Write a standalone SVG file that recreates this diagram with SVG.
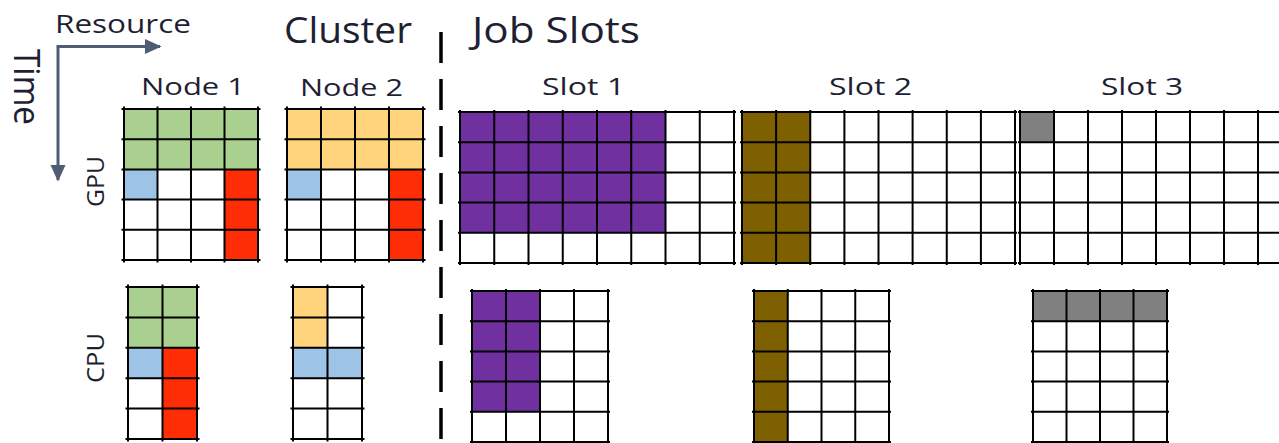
<svg xmlns="http://www.w3.org/2000/svg" width="1279" height="443" viewBox="0 0 1279 443">
<style>
text{font-family:"Open Sans","Liberation Sans",sans-serif;fill:#1f1f33}
.t1{font-size:25px}
.t2{font-size:36px}
.t3{font-size:24px}
.grid{fill:none;stroke:#000;stroke-width:2}
.bg{fill:#fff}
.g{fill:#a9d08e}.o{fill:#ffd47c}.b{fill:#9dc3e6}.r{fill:#ff2d05}.p{fill:#7030a0}.br{fill:#7f6000}.gr{fill:#808080}
</style>
<defs>
<marker id="ah" markerWidth="6" markerHeight="6" refX="5" refY="3" orient="auto" markerUnits="strokeWidth"><path d="M0,0.5 L5.5,3 L0,5.5 Z" fill="#4e5d73"/></marker>
</defs>
<rect width="1279" height="443" fill="#fff"/>
<g id="connectors">
<path d="M58 47.5 V180" stroke="#4e5d73" stroke-width="3" fill="none" marker-end="url(#ah)"/>
<path d="M56.5 46.5 H160" stroke="#4e5d73" stroke-width="3" fill="none" marker-end="url(#ah)"/>
<line x1="441" y1="32" x2="441" y2="443" stroke="#000" stroke-width="3.5" stroke-dasharray="31 16"/>
</g>
<g id="labels">
<text class="t1" x="55" y="33" textLength="136" lengthAdjust="spacingAndGlyphs">Resource</text>
<text class="t2" transform="translate(14,49) rotate(90)" style="font-size:36px" textLength="76" lengthAdjust="spacingAndGlyphs">Time</text>
<text class="t2" x="284" y="43" textLength="128" lengthAdjust="spacingAndGlyphs">Cluster</text>
<text class="t2" x="472" y="43" textLength="168" lengthAdjust="spacingAndGlyphs">Job Slots</text>
<text class="t3" transform="translate(104,207) rotate(-90)" style="font-size:24px" textLength="51" lengthAdjust="spacingAndGlyphs">GPU</text>
<text class="t3" transform="translate(104,383) rotate(-90)" style="font-size:24px" textLength="50" lengthAdjust="spacingAndGlyphs">CPU</text>
</g>
<g id="node1">
<text class="t3" x="141" y="95" textLength="104" lengthAdjust="spacingAndGlyphs">Node 1</text>
<g id="node1-gpu">
<rect class="bg" x="124" y="109" width="134" height="151"/>
<rect class="g" x="124" y="109" width="134" height="60.4"/>
<rect class="b" x="124" y="169.4" width="33.5" height="30.2"/>
<rect class="r" x="224.5" y="169.4" width="33.5" height="90.6"/>
<path class="grid" d="M121.5 109H260.5M121.5 139.2H260.5M121.5 169.4H260.5M121.5 199.6H260.5M121.5 229.8H260.5M121.5 260H260.5M124 106.5V262.5M157.5 106.5V262.5M191 106.5V262.5M224.5 106.5V262.5M258 106.5V262.5"/>
</g>
<g id="node1-cpu">
<rect class="bg" x="128" y="287" width="69" height="152"/>
<rect class="g" x="128" y="287" width="69" height="60.8"/>
<rect class="b" x="128" y="347.8" width="34.5" height="30.4"/>
<rect class="r" x="162.5" y="347.8" width="34.5" height="91.2"/>
<path class="grid" d="M125.5 287H199.5M125.5 317.4H199.5M125.5 347.8H199.5M125.5 378.2H199.5M125.5 408.6H199.5M125.5 439H199.5M128 284.5V441.5M162.5 284.5V441.5M197 284.5V441.5"/>
</g>
</g>
<g id="node2">
<text class="t3" x="300" y="96" textLength="103" lengthAdjust="spacingAndGlyphs">Node 2</text>
<g id="node2-gpu">
<rect class="bg" x="287" y="109" width="136" height="151"/>
<rect class="o" x="287" y="109" width="136" height="60.4"/>
<rect class="b" x="287" y="169.4" width="34" height="30.2"/>
<rect class="r" x="389" y="169.4" width="34" height="90.6"/>
<path class="grid" d="M284.5 109H425.5M284.5 139.2H425.5M284.5 169.4H425.5M284.5 199.6H425.5M284.5 229.8H425.5M284.5 260H425.5M287 106.5V262.5M321 106.5V262.5M355 106.5V262.5M389 106.5V262.5M423 106.5V262.5"/>
</g>
<g id="node2-cpu">
<rect class="bg" x="293" y="287" width="69" height="152"/>
<rect class="o" x="293" y="287" width="34.5" height="60.8"/>
<rect class="b" x="293" y="347.8" width="69" height="30.4"/>
<path class="grid" d="M290.5 287H364.5M290.5 317.4H364.5M290.5 347.8H364.5M290.5 378.2H364.5M290.5 408.6H364.5M290.5 439H364.5M293 284.5V441.5M327.5 284.5V441.5M362 284.5V441.5"/>
</g>
</g>
<g id="slot1">
<text class="t3" x="542" y="95" textLength="83" lengthAdjust="spacingAndGlyphs">Slot 1</text>
<g id="slot1-gpu">
<rect class="bg" x="460" y="112" width="274" height="151"/>
<rect class="p" x="460" y="112" width="205.5" height="120.8"/>
<path class="grid" d="M458 112H736M458 142.2H736M458 172.4H736M458 202.6H736M458 232.8H736M458 263H736M460 110V265M494.25 110V265M528.5 110V265M562.75 110V265M597 110V265M631.25 110V265M665.5 110V265M699.75 110V265M734 110V265"/>
</g>
<g id="slot1-cpu">
<rect class="bg" x="472" y="291" width="136" height="151"/>
<rect class="p" x="472" y="291" width="68" height="120.8"/>
<path class="grid" d="M470 291H610M470 321.2H610M470 351.4H610M470 381.6H610M470 411.8H610M470 442H610M472 289V444M506 289V444M540 289V444M574 289V444M608 289V444"/>
</g>
</g>
<g id="slot2">
<text class="t3" x="829" y="95" textLength="83" lengthAdjust="spacingAndGlyphs">Slot 2</text>
<g id="slot2-gpu">
<rect class="bg" x="742" y="112" width="273" height="151"/>
<rect class="br" x="742" y="112" width="68.25" height="151"/>
<path class="grid" d="M740 112H1017M740 142.2H1017M740 172.4H1017M740 202.6H1017M740 232.8H1017M740 263H1017M742 110V265M776.1 110V265M810.25 110V265M844.4 110V265M878.5 110V265M912.6 110V265M946.75 110V265M980.9 110V265M1015 110V265"/>
</g>
<g id="slot2-cpu">
<rect class="bg" x="754" y="291" width="135" height="151"/>
<rect class="br" x="754" y="291" width="33.75" height="151"/>
<path class="grid" d="M752 291H891M752 321.2H891M752 351.4H891M752 381.6H891M752 411.8H891M752 442H891M754 289V444M787.75 289V444M821.5 289V444M855.25 289V444M889 289V444"/>
</g>
</g>
<g id="slot3">
<text class="t3" x="1101" y="95" textLength="82" lengthAdjust="spacingAndGlyphs">Slot 3</text>
<g id="slot3-gpu">
<rect class="bg" x="1020" y="112" width="272" height="151"/>
<rect class="gr" x="1020" y="112" width="34" height="30.2"/>
<path class="grid" d="M1018 112H1294M1018 142.2H1294M1018 172.4H1294M1018 202.6H1294M1018 232.8H1294M1018 263H1294M1020 110V265M1054 110V265M1088 110V265M1122 110V265M1156 110V265M1190 110V265M1224 110V265M1258 110V265M1292 110V265"/>
</g>
<g id="slot3-cpu">
<rect class="bg" x="1033" y="291" width="134" height="151"/>
<rect class="gr" x="1033" y="291" width="134" height="30.2"/>
<path class="grid" d="M1031 291H1169M1031 321.2H1169M1031 351.4H1169M1031 381.6H1169M1031 411.8H1169M1031 442H1169M1033 289V444M1066.5 289V444M1100 289V444M1133.5 289V444M1167 289V444"/>
</g>
</g>
</svg>
